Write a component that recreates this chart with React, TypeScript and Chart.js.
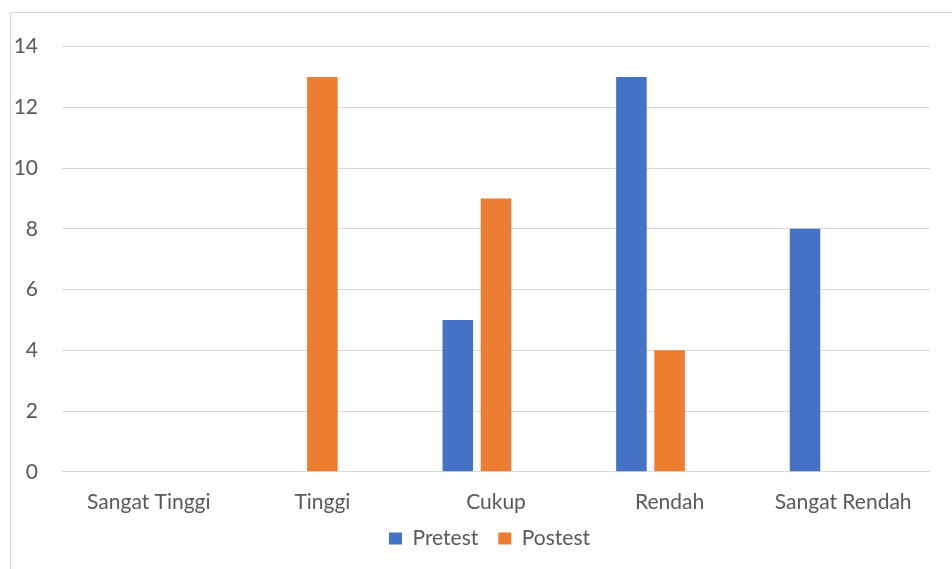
import { useEffect, useRef } from 'react';
import { Chart, registerables } from 'chart.js';

Chart.register(...registerables);

const categories = ['Sangat Tinggi', 'Tinggi', 'Cukup', 'Rendah', 'Sangat Rendah'];
const pretest = [0, 0, 5, 13, 8];
const postest = [0, 13, 9, 4, 0];
// empty third series in the source workbook, keeps the bar slots offset
const blank = [0, 0, 0, 0, 0];
const yTicks = [0, 2, 4, 6, 8, 10, 12, 14];

// the legend is centred on the whole chart box, not on the plot area,
// and sits closer to the category labels than chart.js would put it
const legendShift = {
	id: 'legendShift',
	afterLayout(chart) {
		const lg = chart.legend;
		if (!lg) return;
		lg.left += 19;
		lg.right += 19;
		lg.top -= 17;
		lg.bottom -= 17;
	},
};

export default function App() {
	const canvasRef = useRef(null);

	useEffect(() => {
		if (!canvasRef.current) return;
		const textColor = '#595959';
		const gridColor = '#d9d9d9';

		const chart = new Chart(canvasRef.current, {
			type: 'bar',
			data: {
				labels: categories,
				datasets: [
					{ label: 'Pretest', data: pretest, backgroundColor: '#4472C4', borderWidth: 0 },
					{ label: 'Postest', data: postest, backgroundColor: '#ED7D31', borderWidth: 0 },
					{ label: '', data: blank, backgroundColor: 'rgba(0,0,0,0)', borderWidth: 0 },
				],
			},
			plugins: [legendShift],
			options: {
				animation: false,
				responsive: true,
				maintainAspectRatio: false,
				datasets: {
					bar: { categoryPercentage: 0.66, barPercentage: 0.8 },
				},
				layout: { padding: { left: 0, right: 39, top: 12, bottom: 4 } },
				plugins: {
					tooltip: { enabled: false },
					legend: {
						position: 'bottom',
						labels: {
							color: textColor,
							font: { family: 'Lato', size: 21 },
							boxWidth: 13,
							boxHeight: 12,
							padding: 20,
							filter: (item) => item.datasetIndex < 2,
						},
					},
				},
				scales: {
					x: {
						grid: { display: false },
						border: { display: false },
						ticks: {
							color: textColor,
							font: { family: 'Lato', size: 21 },
							padding: 10,
							maxRotation: 0,
						},
					},
					y: {
						min: 0,
						max: 14,
						afterBuildTicks: (scale) => {
							scale.ticks = yTicks.map((v) => ({ value: v }));
						},
						afterFit: (scale) => {
							scale.width = 51;
						},
						grid: { color: gridColor, lineWidth: 1, drawTicks: false },
						border: { display: false },
						ticks: {
							color: textColor,
							font: { family: 'Lato', size: 21 },
							padding: 24,
						},
					},
				},
			},
		});

		return () => chart.destroy();
	}, []);

	return (
		<div style={{ position: 'fixed', inset: 0, overflow: 'hidden', background: '#fff' }}>
			<div
				style={{
					position: 'absolute',
					left: 10,
					top: 12,
					width: 1000,
					height: 600,
					border: '1px solid #d9d9d9',
				}}
			/>
			<div style={{ position: 'absolute', left: 11, top: 10, width: 958, height: 570 }}>
				<canvas ref={canvasRef} />
			</div>
		</div>
	);
}
